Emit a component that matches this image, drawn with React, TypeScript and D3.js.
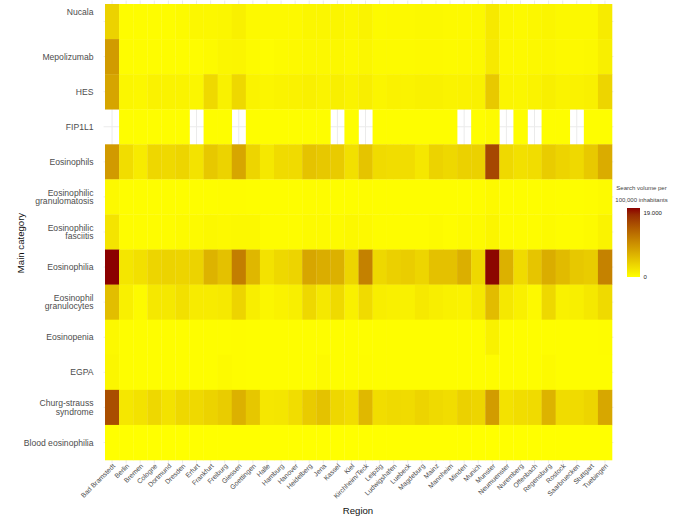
import { scaleBand, scaleLinear, interpolateLab, max, range, formatLocale } from 'd3'

const REGIONS = [
  'Bad Bramstedt', 'Berlin', 'Bremen', 'Cologne', 'Dortmund', 'Dresden', 'Erfurt', 'Frankfurt',
  'Freiburg', 'Giessen', 'Goettingen', 'Halle', 'Hamburg', 'Hanover', 'Heidelberg', 'Jena',
  'Kassel', 'Kiel', 'Kirchheim/Teck', 'Leipzig', 'Ludwigshafen', 'Luebeck', 'Magdeburg', 'Mainz',
  'Mannheim', 'Minden', 'Munich', 'Munster', 'Neumuenster', 'Nuremberg', 'Offenbach', 'Regensburg',
  'Rostock', 'Saarbruecken', 'Stuttgart', 'Tuebingen',
]

const CATEGORIES = [
  'Nucala', 'Mepolizumab', 'HES', 'FIP1L1', 'Eosinophils', 'Eosinophilic\ngranulomatosis',
  'Eosinophilic\nfasciitis', 'Eosinophilia', 'Eosinophil\ngranulocytes', 'Eosinopenia', 'EGPA',
  'Churg-strauss\nsyndrome', 'Blood eosinophilia',
]

// search volume per 100,000 inhabitants, in thousands (null = no data)
const nucala = [3.9, 0.3, 0.3, 0.3, 0.3, 0.4, 0.7, 0.7, 0.8, 1.3, 0.5, 0.5, 0.5, 0.5, 0.8, 0.8, 0.9, 0.7, 1.0, 0.4, 0.5, 0.5, 0.6, 0.6, 0.5, 0.5, 0.6, 1.9, 0.6, 0.5, 0.7, 0.9, 0.6, 0.6, 0.6, 1.7]
const mepolizumab = [8.8, 0.3, 0.3, 0.3, 0.3, 0.3, 0.3, 0.4, 0.8, 0.9, 0.4, 0.3, 0.4, 0.5, 0.6, 0.6, 0.7, 0.5, 0.8, 0.4, 0.4, 0.4, 0.5, 0.5, 0.4, 0.5, 0.6, 1.9, 0.5, 0.5, 0.6, 0.7, 0.5, 0.5, 0.6, 1.4]
const hes = [7.9, 0.8, 0.7, 1.1, 1.0, 1.0, 0.8, 3.3, 1.2, 3.4, 1.0, 0.9, 1.0, 1.1, 1.3, 1.0, 1.4, 1.0, 1.5, 0.9, 1.1, 1.0, 1.2, 1.2, 1.0, 1.1, 1.2, 4.7, 0.9, 0.8, 1.0, 1.4, 1.0, 1.1, 1.3, 3.6]
const fip1l1 = [null, 0.2, 0.2, 0.2, 0.2, 0.2, null, 0.2, 0.2, null, 0.2, 0.2, 0.2, 0.2, 0.2, 0.2, null, 0.2, null, 0.2, 0.2, 0.2, 0.2, 0.2, 0.2, null, 0.2, 0.4, null, 0.2, null, 0.2, 0.2, null, 0.2, 0.2]
const eosinophils = [8.9, 2.9, 1.7, 3.5, 3.3, 3.6, 2.4, 4.8, 3.8, 7.8, 3.6, 2.0, 3.1, 3.1, 5.2, 4.8, 4.5, 2.7, 5.1, 3.1, 2.9, 2.9, 2.1, 3.8, 3.4, 4.0, 4.0, 16.2, 3.3, 2.7, 2.9, 4.4, 3.7, 3.3, 4.7, 7.3]
const granulomatosis = [0.5, 0.2, 0.2, 0.2, 0.2, 0.2, 0.2, 0.2, 0.3, 0.3, 0.2, 0.2, 0.2, 0.2, 0.3, 0.3, 0.2, 0.2, 0.3, 0.2, 0.2, 0.2, 0.2, 0.2, 0.2, 0.2, 0.3, 0.5, 0.2, 0.2, 0.2, 0.3, 0.2, 0.2, 0.3, 0.4]
const fasciitis = [2.3, 0.3, 0.3, 0.3, 0.3, 0.4, 0.4, 0.6, 0.5, 0.6, 0.6, 0.3, 0.3, 0.3, 0.4, 0.4, 0.4, 0.6, 0.5, 0.3, 0.3, 0.3, 0.3, 0.4, 0.3, 0.4, 0.4, 0.9, 0.3, 0.3, 0.3, 0.4, 0.3, 0.3, 0.4, 1.0]
const eosinophilia = [20.3, 2.2, 2.7, 3.6, 3.8, 3.7, 3.8, 6.6, 5.4, 11.4, 6.3, 2.5, 3.4, 3.7, 7.8, 7.2, 6.8, 3.6, 11.1, 3.4, 4.1, 4.3, 3.6, 5.4, 5.4, 7.0, 3.4, 20.1, 6.8, 3.1, 5.0, 7.2, 5.9, 4.8, 4.4, 11.0]
const granulocytes = [5.7, 1.3, 0.4, 2.0, 2.0, 2.7, 1.7, 1.7, 1.9, 3.7, 1.5, 0.8, 1.1, 1.4, 3.4, 2.0, 3.2, 1.3, 3.1, 1.5, 1.3, 1.2, 1.9, 1.5, 1.2, 1.1, 2.0, 5.8, 2.0, 1.3, 0.5, 3.4, 1.2, 1.4, 2.0, 3.2]
const eosinopenia = [0.6, 0.2, 0.2, 0.2, 0.2, 0.2, 0.2, 0.2, 0.2, 0.3, 0.2, 0.2, 0.2, 0.2, 0.2, 0.2, 0.2, 0.2, 0.2, 0.2, 0.2, 0.2, 0.2, 0.2, 0.2, 0.2, 0.2, 1.2, 0.2, 0.2, 0.2, 0.2, 0.2, 0.2, 0.2, 0.3]
const egpa = [0.8, 0.2, 0.2, 0.2, 0.2, 0.2, 0.2, 0.2, 0.4, 0.3, 0.2, 0.2, 0.2, 0.2, 0.2, 0.4, 0.2, 0.2, 0.3, 0.2, 0.2, 0.2, 0.2, 0.2, 0.2, 0.2, 0.2, 0.3, 0.2, 0.2, 0.2, 0.4, 0.2, 0.2, 0.2, 0.2]
const churgStrauss = [15.6, 2.1, 2.5, 3.4, 2.5, 3.4, 3.3, 3.8, 4.4, 6.8, 4.9, 2.1, 2.2, 2.9, 4.5, 5.3, 3.5, 2.9, 6.2, 2.9, 3.2, 3.1, 3.7, 3.2, 2.9, 4.0, 3.6, 8.7, 2.5, 2.9, 3.1, 6.6, 3.0, 3.1, 3.6, 7.7]
const bloodEosinophilia = [0, 0, 0, 0, 0, 0, 0, 0, 0, 0, 0, 0, 0, 0, 0, 0, 0, 0, 0, 0, 0, 0, 0, 0, 0, 0, 0, 0, 0, 0, 0, 0, 0, 0, 0, 0]

const VALUES: (number | null)[][] = [
  nucala, mepolizumab, hes, fip1l1, eosinophils, granulomatosis, fasciitis,
  eosinophilia, granulocytes, eosinopenia, egpa, churgStrauss, bloodEosinophilia,
]

const LEGEND_TICKS = [0, 19]

const de = formatLocale({ decimal: ',', thousands: '.', grouping: [3], currency: ['', '€'] })
const fmt = de.format(',')

export default function App() {
  const width = 677
  const height = 517
  const font = "'Liberation Sans', Arial, sans-serif"

  const x = scaleBand().domain(REGIONS).range([105, 612])
  const y = scaleBand().domain(CATEGORIES).range([4, 460])
  const xPad = x.bandwidth() * 0.1
  const yPad = y.bandwidth() * 0.1

  const vmax = max(VALUES.flat().filter((v) => v != null) as number[]) ?? 1
  const color = scaleLinear<string>()
    .domain([0, vmax])
    .range(['#FFFF00', '#8B0000'])
    .interpolate(interpolateLab)

  const legend = { x: 627, top: 208, bottom: 277, w: 13 }
  const legendY = scaleLinear().domain([0, vmax]).range([legend.bottom, legend.top])

  return (
    <svg width={width} height={height} style={{ position: 'absolute', left: 0, top: 0, background: '#fff' }}>
      <defs>
        <linearGradient id='lg' x1='0' y1='1' x2='0' y2='0'>
          {range(0, 1.0001, 0.1).map((t, i) => (
            <stop key={i} offset={t} stopColor={color(t * vmax)} />
          ))}
        </linearGradient>
      </defs>

      {/* grid */}
      {REGIONS.map((r) => (
        <line
          key={r}
          x1={x(r)! + x.bandwidth() / 2}
          x2={x(r)! + x.bandwidth() / 2}
          y1={4 - yPad}
          y2={460 + yPad}
          stroke='#EBEBEB'
        />
      ))}
      {CATEGORIES.map((c) => (
        <line
          key={c}
          x1={105 - xPad}
          x2={612 + xPad}
          y1={y(c)! + y.bandwidth() / 2}
          y2={y(c)! + y.bandwidth() / 2}
          stroke='#EBEBEB'
        />
      ))}

      {/* tiles */}
      {VALUES.map((row, i) =>
        row.map((v, j) =>
          v == null ? null : (
            <rect
              key={`${i}-${j}`}
              x={x(REGIONS[j])!}
              y={y(CATEGORIES[i])!}
              width={x.bandwidth() + 0.3}
              height={y.bandwidth() + 0.3}
              fill={color(v)}
            />
          )
        )
      )}

      {/* y labels */}
      {CATEGORIES.map((c, i) => {
        const lines = c.split('\n')
        // the top label sits high in the reference
        const cy = y(c)! + y.bandwidth() / 2 - (i === 0 ? 10 : 0)
        const lh = 8.4
        return (
          <text
            key={c}
            x={93.5}
            y={cy - ((lines.length - 1) * lh) / 2 + 3.1}
            textAnchor='end'
            fontSize={8.6}
            fontFamily={font}
            fill='#4D4D4D'
          >
            {lines.map((l, k) => (
              <tspan key={k} x={93.5} dy={k === 0 ? 0 : lh}>
                {l}
              </tspan>
            ))}
          </text>
        )
      })}

      {/* x labels */}
      {REGIONS.map((r) => (
        <text
          key={r}
          transform={`translate(${x(r)! + x.bandwidth() / 2 + 2}, 465) rotate(-45)`}
          textAnchor='end'
          dy='0.3em'
          fontSize={6.8}
          fontFamily={font}
          fill='#4D4D4D'
        >
          {r}
        </text>
      ))}

      {/* axis titles */}
      <text x={358} y={514} textAnchor='middle' fontSize={9.6} fontFamily={font} fill='#111'>
        Region
      </text>
      <text
        transform='translate(24, 243) rotate(-90)'
        textAnchor='middle'
        fontSize={9.6}
        fontFamily={font}
        fill='#111'
      >
        Main category
      </text>

      {/* legend */}
      <text x={641.5} y={190} textAnchor='middle' fontSize={6} fontFamily={font} fill='#444'>
        Search volume per
      </text>
      <text x={641.5} y={201.5} textAnchor='middle' fontSize={6} fontFamily={font} fill='#444'>
        100,000 inhabitants
      </text>
      <rect x={legend.x} y={legend.top} width={legend.w} height={legend.bottom - legend.top} fill='url(#lg)' />
      {LEGEND_TICKS.map((t) => (
        <text
          key={t}
          x={643.5}
          y={legendY(t)}
          dy='0.35em'
          fontSize={6}
          fontFamily={font}
          fill='#222'
        >
          {fmt(t * 1000)}
        </text>
      ))}
    </svg>
  )
}
